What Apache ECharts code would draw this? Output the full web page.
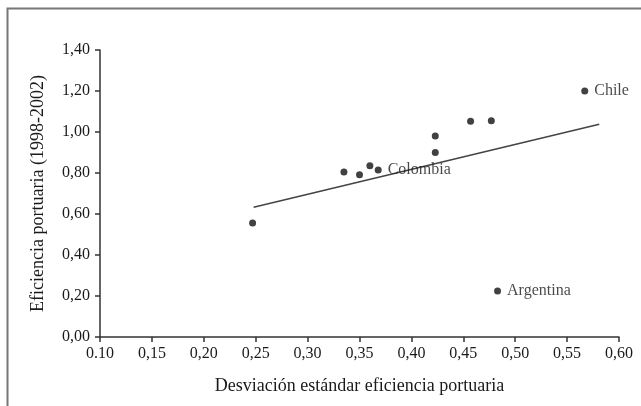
<!DOCTYPE html>
<html>
<head>
<meta charset="utf-8">
<script src="https://cdn.jsdelivr.net/npm/echarts@6/dist/echarts.min.js"></script>
<style>
html,body{margin:0;padding:0;background:#fff;}
#chart{width:641px;height:406px;}
</style>
</head>
<body>
<div id="chart"></div>
<script>
const xTickLabels = ['0.10','0,15','0,20','0,25','0,30','0,35','0,40','0,45','0,50','0,55','0,60'];
const yTickLabels = ['0,00','0,20','0,40','0,60','0,80','1,00','1,20','1,40'];
const pointNames = ['', '', '', '', 'Colombia', '', '', '', '', 'Chile', 'Argentina'];
const xValues = [0.247, 0.335, 0.350, 0.360, 0.368, 0.423, 0.423, 0.457, 0.477, 0.567, 0.483];
const yValues = [0.556, 0.805, 0.792, 0.835, 0.815, 0.980, 0.900, 1.052, 1.055, 1.200, 0.225];
const trendX = [0.248, 0.581];
const trendY = [0.633, 1.038];

const font = '"Liberation Serif", "Times New Roman", serif';
const chart = echarts.init(document.getElementById('chart'));
chart.setOption({
  backgroundColor: '#fff',
  animation: false,
  textStyle: { fontFamily: font },
  graphic: [
    { type: 'polyline', shape: { points: [[7.5, 406], [7.5, 8.5], [641, 8.5]] },
      style: { stroke: '#777', lineWidth: 2, fill: null } }
  ],
  grid: { left: 100, right: 22, top: 50, bottom: 69 },
  xAxis: {
    type: 'value', min: 0.1, max: 0.6, interval: 0.05,
    name: 'Desviación estándar eficiencia portuaria',
    nameLocation: 'middle', nameGap: 40,
    nameTextStyle: { fontFamily: font, fontSize: 18, color: '#1a1a1a' },
    axisLine: { lineStyle: { color: '#333', width: 1.5 } },
    axisTick: { show: true, inside: false, length: 5, lineStyle: { color: '#333', width: 1.5 } },
    axisLabel: { fontFamily: font, fontSize: 16, color: '#1a1a1a', margin: 9,
      formatter: v => xTickLabels[Math.round((v - 0.1) / 0.05)] },
    splitLine: { show: false }
  },
  yAxis: {
    type: 'value', min: 0, max: 1.4, interval: 0.2,
    name: 'Eficiencia portuaria (1998-2002)',
    nameLocation: 'middle', nameGap: 53,
    nameTextStyle: { fontFamily: font, fontSize: 18, color: '#1a1a1a' },
    axisLine: { show: true, lineStyle: { color: '#333', width: 1.5 } },
    axisTick: { show: true, inside: false, length: 5, lineStyle: { color: '#333', width: 1.5 } },
    axisLabel: { fontFamily: font, fontSize: 16, color: '#1a1a1a', margin: 10,
      formatter: v => yTickLabels[Math.round(v / 0.2)] },
    splitLine: { show: false }
  },
  series: [
    {
      type: 'line',
      data: trendX.map((x, i) => [x, trendY[i]]),
      symbol: 'none',
      lineStyle: { color: '#444', width: 1.6 },
      z: 2
    },
    {
      type: 'scatter',
      data: xValues.map((x, i) => ({ value: [x, yValues[i]], name: pointNames[i] })),
      symbol: 'circle', symbolSize: 7,
      itemStyle: { color: '#111' },
      label: {
        show: true, position: 'right', distance: 6,
        fontFamily: font, fontSize: 16, color: '#1a1a1a',
        formatter: p => p.name
      },
      z: 3
    }
  ]
});
</script>
</body>
</html>
